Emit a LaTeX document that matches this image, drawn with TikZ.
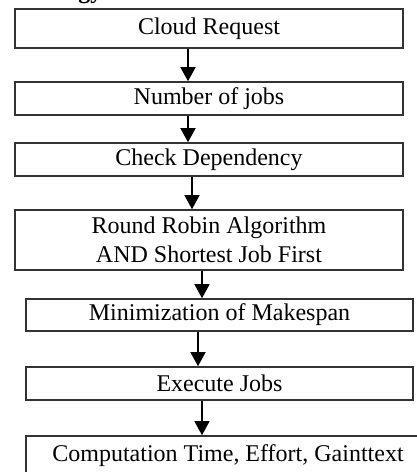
\documentclass[tikz,border=0pt]{standalone}
\usepackage{fontspec}
\setmainfont{Liberation Serif}
\usetikzlibrary{arrows.meta}
\tikzset{
  stage/.style={draw=black!80,line width=1.6pt,inner sep=0pt,align=center,
    font=\fontsize{24}{29}\selectfont},
  flow/.style={line width=1.4pt,-{Triangle[width=15pt,length=14pt]}}
}
\begin{document}
\begin{tikzpicture}[x=1pt,y=1pt]
\useasboundingbox (0,0) rectangle (417,-472);
\node[anchor=base east,font=\fontsize{24}{29}\selectfont\bfseries] (head) at (106,1.5) {Methodology};
\node[stage,minimum width=388,minimum height=39] (req) at (209,-28.5) {Cloud Request};
\node[stage,minimum width=388,minimum height=33] (jobs) at (209,-98.5) {Number of jobs};
\node[stage,minimum width=388,minimum height=33] (dep) at (209,-159.5) {Check Dependency};
\node[stage,minimum width=388,minimum height=60] (rr) at (209,-240) {Round Robin Algorithm\\AND Shortest Job First};
\node[stage,minimum width=387,minimum height=32] (mks) at (219.5,-315) {Minimization of Makespan};
\node[stage,minimum width=387,minimum height=33] (exe) at (219.5,-383.5) {Execute Jobs};
\node[stage,minimum width=404,minimum height=40] (res) at (228,-456) {Computation Time, Effort, Gainttext};
\draw[flow] ([xshift=-21pt]req.south) -- ([xshift=-21pt]req.south |- jobs.north);
\draw[flow] ([xshift=-21pt]jobs.south) -- ([xshift=-21pt]jobs.south |- dep.north);
\draw[flow] ([xshift=-17pt]dep.south) -- ([xshift=-17pt]dep.south |- rr.north);
\draw[flow] ([xshift=-7pt]rr.south) -- ([xshift=-7pt]rr.south |- mks.north);
\draw[flow] ([xshift=-21.5pt]mks.south) -- ([xshift=-21.5pt]mks.south |- exe.north);
\draw[flow] ([xshift=-17.5pt]exe.south) -- ([xshift=-17.5pt]exe.south |- res.north);
\end{tikzpicture}
\end{document}
